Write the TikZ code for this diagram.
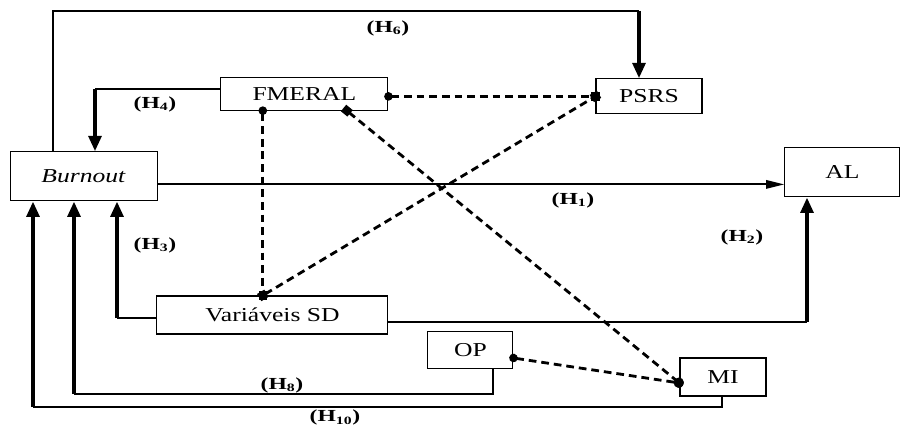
\documentclass[tikz,border=0pt]{standalone}
\usepackage{fontspec}
\setmainfont{Liberation Serif}
\newfontfamily\widefont[FakeStretch=1.3]{Liberation Serif}
\newfontfamily\hypfont[FakeStretch=1.4]{Liberation Serif}
\usepackage{xcolor}
\usepackage{tikz}
\usetikzlibrary{arrows.meta, positioning, calc}
\tikzstyle{strong} = [-{Triangle[length=11pt,width=9pt]}, line width=2.8pt]

\begin{document}
\begin{tikzpicture}[
  box/.style={draw, line width=0.8pt, minimum height=0.9cm, inner sep=2pt, text centered, font=\widefont\fontsize{14}{16}\selectfont},
  hyp/.style={font=\hypfont\fontsize{12}{14}\selectfont\bfseries},
  wire/.style={line width=0.8pt},
  assoc/.style={line width=2pt, dash pattern=on 5.5pt off 3.5pt, shorten <=-3pt, shorten >=-3pt}
]
\useasboundingbox (0,0) rectangle (22.6,10.7);

% Constructs
\node[box, minimum width=3.675cm, minimum height=1.225cm] (burnout) at (2.09,6.29) {\textit{Burnout}};
\node[box, minimum width=4.175cm, minimum height=0.825cm] (fmeral) at (7.61,8.36) {FMERAL};
\node[box, minimum width=2.65cm, minimum height=0.875cm] (psrs) at (16.225,8.29) {PSRS};
\node[box, minimum width=2.875cm, minimum height=1.225cm] (al) at (21.06,6.39) {AL};
\node[box, minimum width=5.775cm, minimum height=0.95cm] (sd) at (6.81,2.825) {Variáveis SD};
\node[box, minimum width=2.125cm, minimum height=0.925cm] (op) at (11.76,1.96) {OP};
\node[box, minimum width=2.15cm, minimum height=0.95cm] (mi) at (18.075,1.275) {MI};

% Bend points
\coordinate (h6l) at (1.325,10.425);
\coordinate (h6r) at (15.975,10.425);
\coordinate (h4) at (2.375,8.475);
\coordinate (h1) at ([yshift=-0.2cm]burnout.east);
\coordinate (h2) at (20.175,2.65);
\coordinate (h3) at (2.925,2.75);
\coordinate (h8r) at (12.325,0.85);
\coordinate (h8l) at (1.85,0.85);
\coordinate (h10r) at (18.05,0.525);
\coordinate (h10l) at (0.825,0.525);

% Hypotheses
\draw[wire] (burnout.north -| h6l) -- (h6l) -- (h6r);
\draw[strong] (h6r) -- (h6r |- psrs.north);
\draw[wire] (fmeral.west |- h4) -- (h4);
\draw[strong] (h4) -- (h4 |- burnout.north);
\draw[-{Triangle[length=13pt,width=6pt]}, line width=1.3pt] (h1) -- (h1 -| al.west);
\draw[wire] (sd.east |- h2) -- (h2);
\draw[strong] (h2) -- (h2 |- al.south);
\draw[wire] (sd.west |- h3) -- (h3);
\draw[strong] (h3) -- (h3 |- burnout.south);
\draw[wire] (op.south -| h8r) -- (h8r) -- (h8l);
\draw[strong] (h8l) -- (h8l |- burnout.south);
\draw[wire] (mi.south -| h10r) -- (h10r) -- (h10l);
\draw[strong] (h10l) -- (h10l |- burnout.south);

% Correlations
\coordinate (fm1) at ([xshift=-1.04cm]fmeral.south);
\coordinate (fm2) at ([xshift=1.06cm]fmeral.south);
\coordinate (sd1) at (fm1 |- sd.north);
\coordinate (mi1) at ([yshift=-0.15cm]mi.west);
\coordinate (op1) at ([yshift=-0.21cm]op.east);
\draw[assoc, {Circle[length=6pt]}-{Square[length=6pt]}] (fmeral.east |- psrs.west) -- (psrs.west);
\draw[assoc, {Circle[length=6pt]}-{Square[length=6pt]}] (fm1) -- (sd1);
\draw[assoc, {Square[length=6pt]}-{Square[length=6pt]}] (sd1) -- (psrs.west);
\draw[assoc, {Square[length=6pt]}-{Circle[length=7pt]}] (fm2) -- (mi1);
\draw[assoc, {Circle[length=6pt]}-{Circle[length=7pt]}] (op1) -- (mi1);

% Labels
\node[hyp] (lh6) at (9.7,10.0) {(H\textsubscript{6})};
\node[hyp] (lh4) at (3.875,8.1) {(H\textsubscript{4})};
\node[hyp] (lh1) at (14.325,5.7) {(H\textsubscript{1})};
\node[hyp] (lh2) at (18.55,4.775) {(H\textsubscript{2})};
\node[hyp] (lh3) at (3.875,4.575) {(H\textsubscript{3})};
\node[hyp] (lh8) at (7.05,1.075) {(H\textsubscript{8})};
\node[hyp] (lh10) at (8.375,0.26) {(H\textsubscript{10})};

\end{tikzpicture}
\end{document}
